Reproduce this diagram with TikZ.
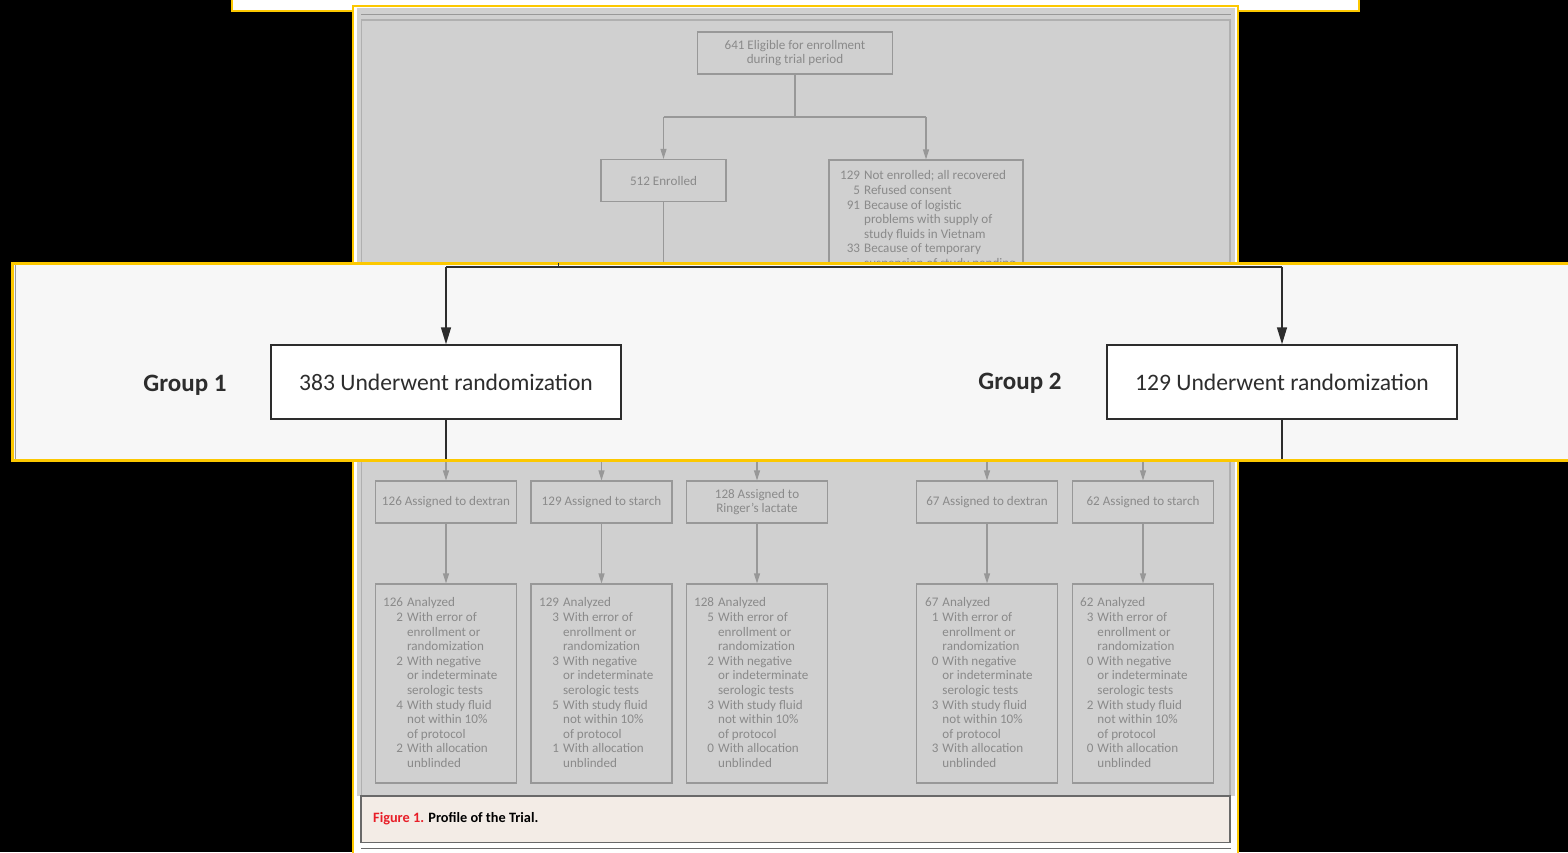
\documentclass[tikz,border=0pt]{standalone}
\usepackage{fontspec}
\setmainfont{Carlito}
\usetikzlibrary{arrows.meta}
\definecolor{ylw}{RGB}{252,200,0}
\definecolor{panel}{RGB}{208,208,208}
\definecolor{gline}{RGB}{152,152,152}
\definecolor{gtext}{RGB}{138,138,138}
\definecolor{pborder}{RGB}{176,176,176}
\definecolor{ovbg}{RGB}{247,247,247}
\definecolor{dk}{RGB}{45,45,45}
\definecolor{capbg}{RGB}{243,236,230}
\definecolor{capline}{RGB}{105,105,105}
\definecolor{figred}{RGB}{232,30,40}
\newcommand{\gfnt}{\fontsize{13.1}{14.6}\selectfont}
\newcommand{\bigfnt}{\fontsize{23.6}{28}\selectfont}
\newcommand{\grpfnt}{\fontsize{25}{30}\selectfont\bfseries}
\newcommand{\capfnt}{\fontsize{14.3}{17}\selectfont\bfseries}
\begin{document}
\begin{tikzpicture}[x=1pt,y=-1pt,
  gbox/.style={draw=gline, line width=1.1, text=gtext, font=\gfnt, inner sep=0, align=center, minimum width=141, minimum height=42},
  gtxt/.style={text=gtext, font=\gfnt, inner sep=0, anchor=north west},
  garr/.style={draw=gline, line width=1.1, -{Triangle[length=10pt,width=6pt]}},
  gln/.style={draw=gline, line width=1.1},
  rbox/.style={draw=dk, line width=1.5, fill=white, text=dk, font=\bigfnt, minimum width=350, minimum height=74, inner sep=0},
  grp/.style={text=dk, font=\grpfnt, inner sep=0},
  darr/.style={draw=dk, line width=1.5, -{Triangle[length=17pt,width=10pt]}},
  dln/.style={draw=dk, line width=1.5}]
\useasboundingbox (0,0) rectangle (1568,852);
\clip (0,0) rectangle (1568,852);
\fill[black] (0,0) rectangle (1568,852);
% top strip
\fill[white] (232,-5) rectangle (1359,11);
\draw[ylw,line width=2] (232,-5) rectangle (1359,11);
% main panel
\fill[white] (353,6) rectangle (1238,870);
\draw[ylw,line width=2.5] (353,6) rectangle (1238,870);
\fill[panel] (357,8) rectangle (1235,796);
\draw[gline,line width=1] (361,14.5) -- (1231,14.5);
\draw[pborder,line width=1.6] (361.5,20) rectangle (1230,796);
% caption
\draw[fill=capbg,draw=capline,line width=1.5] (361,796) rectangle (1230,842.5);
\draw[capline,line width=1.5] (361,848.5) -- (1231,848.5);
\node[anchor=west,inner sep=0,font=\capfnt] (cap) at (373,818.5) {\textcolor{figred}{Figure 1.} Profile of the Trial.};

% upper grey part
\node[gbox,minimum width=195] (elig) at (795,53) {641 Eligible for enrollment\\during trial period};
\node[gbox,minimum width=125] (enr) at (663.5,180.5) {512 Enrolled};
\node[gbox,minimum width=194,minimum height=150] (nen) at (926,235) {};
\node[gtxt] (nentxt) at (840,169.5) {\begin{tabular}{@{}r@{\hspace{4pt}}l@{}}129&Not enrolled; all recovered\\5&Refused consent\\91&Because of logistic\\&problems with supply of\\&study fluids in Vietnam\\33&Because of temporary\\&suspension of study pending\end{tabular}};
\coordinate (jT) at (795,117);
\coordinate (jA) at (663.5,117);
\coordinate (jB) at (926,117);
\coordinate (e1) at (663.5,280);
\draw[gln] (elig.south) -- (jT);
\draw[gln] (jA) -- (jB);
\draw[garr] (jA) -- (enr.north);
\draw[garr] (jB) -- (nen.north);
\draw[gln] (enr.south) -- (e1);

% lower grey part
\node[gbox] (a1) at (446,502) {126 Assigned to dextran};
\node[gbox] (a2) at (601.5,502) {129 Assigned to starch};
\node[gbox] (a3) at (757,502) {128 Assigned to\\Ringer's lactate};
\node[gbox] (a4) at (987,502) {67 Assigned to dextran};
\node[gbox] (a5) at (1143,502) {62 Assigned to starch};
\node[gbox,minimum height=199] (b1) at (446,683.5) {};
\node[gbox,minimum height=199] (b2) at (601.5,683.5) {};
\node[gbox,minimum height=199] (b3) at (757,683.5) {};
\node[gbox,minimum height=199] (b4) at (987,683.5) {};
\node[gbox,minimum height=199] (b5) at (1143,683.5) {};
\node[gtxt] (t1) at (383,596.5) {\begin{tabular}{@{}r@{\hspace{4pt}}l@{}}126&Analyzed\\2&With error of\\&enrollment or\\&randomization\\2&With negative\\&or indeterminate\\&serologic tests\\4&With study fluid\\&not within 10\%\\&of protocol\\2&With allocation\\&unblinded\end{tabular}};
\node[gtxt] (t2) at (539,596.5) {\begin{tabular}{@{}r@{\hspace{4pt}}l@{}}129&Analyzed\\3&With error of\\&enrollment or\\&randomization\\3&With negative\\&or indeterminate\\&serologic tests\\5&With study fluid\\&not within 10\%\\&of protocol\\1&With allocation\\&unblinded\end{tabular}};
\node[gtxt] (t3) at (694,596.5) {\begin{tabular}{@{}r@{\hspace{4pt}}l@{}}128&Analyzed\\5&With error of\\&enrollment or\\&randomization\\2&With negative\\&or indeterminate\\&serologic tests\\3&With study fluid\\&not within 10\%\\&of protocol\\0&With allocation\\&unblinded\end{tabular}};
\node[gtxt] (t4) at (925,596.5) {\begin{tabular}{@{}r@{\hspace{4pt}}l@{}}67&Analyzed\\1&With error of\\&enrollment or\\&randomization\\0&With negative\\&or indeterminate\\&serologic tests\\3&With study fluid\\&not within 10\%\\&of protocol\\3&With allocation\\&unblinded\end{tabular}};
\node[gtxt] (t5) at (1080,596.5) {\begin{tabular}{@{}r@{\hspace{4pt}}l@{}}62&Analyzed\\3&With error of\\&enrollment or\\&randomization\\0&With negative\\&or indeterminate\\&serologic tests\\2&With study fluid\\&not within 10\%\\&of protocol\\0&With allocation\\&unblinded\end{tabular}};
\foreach \i/\xx in {1/446,2/601.5,3/757,4/987,5/1143}{
  \coordinate (s\i) at (\xx,450);
  \draw[garr] (s\i) -- (a\i.north);
  \draw[garr] (a\i.south) -- (b\i.north);
}

% magnified overlay strip
\fill[ovbg] (12,263.5) rectangle (1580,460);
\draw[gline,line width=1] (15.5,265) -- (15.5,458.5);
\draw[ylw,line width=3] (12,263.5) rectangle (1580,460);
\node[rbox] (r1) at (446,382) {383 Underwent randomization};
\node[rbox] (r2) at (1282,382) {129 Underwent randomization};
\node[grp] (g1) at (185,385) {Group 1};
\node[grp] (g2) at (1020,383) {Group 2};
\coordinate (jL) at (446,267);
\coordinate (jR) at (1282,267);
\coordinate (d1) at (446,458.5);
\coordinate (d2) at (1282,458.5);
\coordinate (tk1) at (558,262.5);
\coordinate (tk2) at (558,267);
\draw[dln] (jL) -- (jR);
\draw[darr] (jL) -- (r1.north);
\draw[darr] (jR) -- (r2.north);
\draw[dln] (r1.south) -- (d1);
\draw[dln] (r2.south) -- (d2);
\draw[dk,line width=1] (tk1) -- (tk2);
\end{tikzpicture}
\end{document}
